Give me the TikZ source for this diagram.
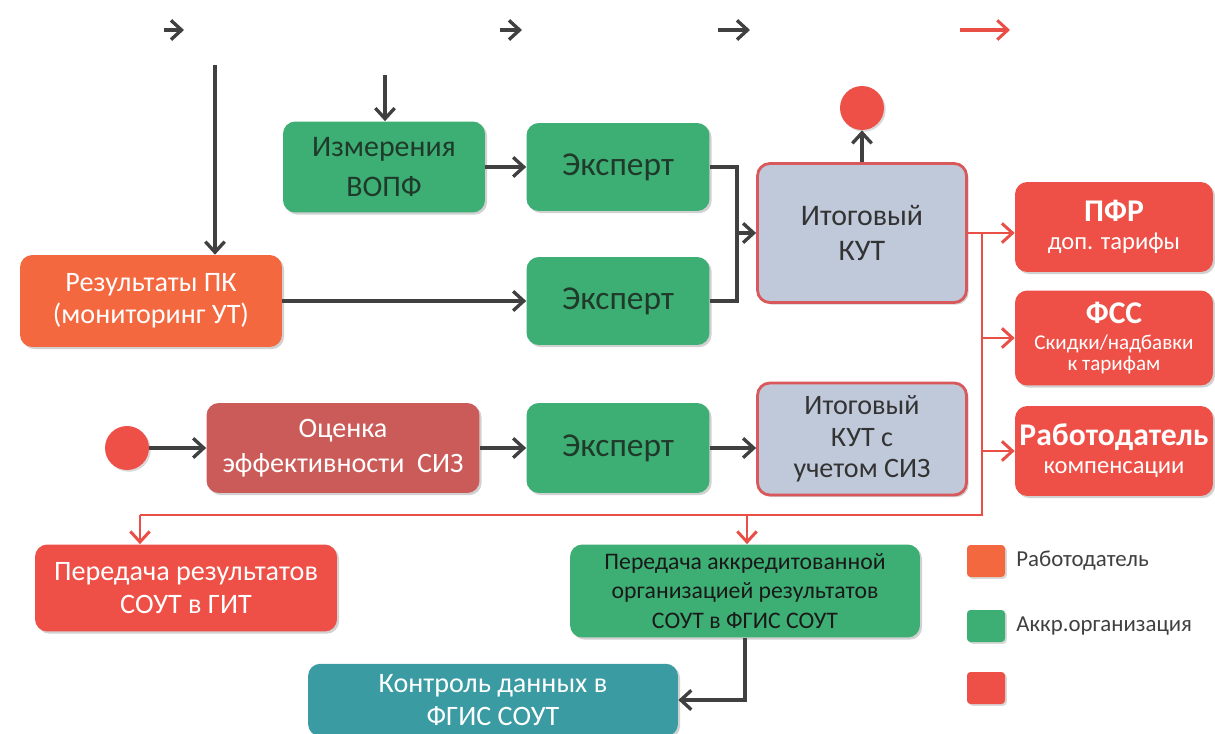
\documentclass[tikz,border=0pt]{standalone}
\usepackage{fontspec}
\setmainfont{Carlito}
\usetikzlibrary{arrows.meta,shadows,calc}
\definecolor{cgreen}{HTML}{3DAE74}
\definecolor{corange}{HTML}{F4683F}
\definecolor{cred}{HTML}{EE5047}
\definecolor{cdred}{HTML}{CB5B58}
\definecolor{cgrey}{HTML}{BFC9D9}
\definecolor{cgborder}{HTML}{D9585B}
\definecolor{cteal}{HTML}{3A9BA2}
\definecolor{cline}{HTML}{404040}
\definecolor{cdark}{HTML}{1F3A2A}
\definecolor{credline}{HTML}{EA4F47}
\newcommand{\fbig}{\fontsize{18}{21}\selectfont\bfseries}
\newcommand{\fsub}[1]{\fontsize{#1}{15}\selectfont\mdseries}
\tikzset{
  box/.style={rounded corners=7pt, align=center, inner sep=2pt,
    drop shadow={shadow xshift=1.2pt, shadow yshift=-1.2pt, fill=black, opacity=0.18}},
  gbox/.style={box, fill=cgreen, text=cdark},
  obox/.style={box, fill=corange, text=white},
  rbox/.style={box, fill=cred, text=white},
  kbox/.style={box, fill=cgrey, draw=cgborder, line width=1.6pt, text=black!80},
  dot/.style={circle, fill=cred, minimum size=0.88cm, inner sep=0pt,
    drop shadow={shadow xshift=1pt, shadow yshift=-1pt, fill=black, opacity=0.15}},
  arr/.style={draw=cline, line width=1.9pt, -{Straight Barb[length=6pt,width=11pt,line width=1.9pt]}},
  ln/.style={draw=cline, line width=1.9pt},
  rarr/.style={draw=credline, line width=1.7pt, -{Straight Barb[length=6pt,width=11pt,line width=1.7pt]}},
  rln/.style={draw=credline, line width=1.7pt},
  legsq/.style={rounded corners=2pt, minimum width=0.76cm, minimum height=0.64cm, inner sep=0pt,
    drop shadow={shadow xshift=1pt, shadow yshift=-1pt, fill=black, opacity=0.15}},
  legtxt/.style={anchor=west, inner sep=0pt, text=black!75, font=\fontsize{13}{15}\selectfont}
}
\begin{document}
\begin{tikzpicture}[x=0.02cm, y=-0.02cm]
\useasboundingbox[fill=white] (0,0) rectangle (1215,734);

% top arrows
\coordinate (t1s) at (164,30); \coordinate (t1e) at (184,30);
\coordinate (t2s) at (500,30); \coordinate (t2e) at (522,30);
\coordinate (t3s) at (718,30); \coordinate (t3e) at (750,30);
\coordinate (t4s) at (960,30); \coordinate (t4e) at (1010,30);
\draw[arr, line width=2.3pt] (t1s) -- (t1e);
\draw[arr, line width=2.3pt] (t2s) -- (t2e);
\draw[arr, line width=2.3pt] (t3s) -- (t3e);
\draw[rarr, line width=2.3pt] (t4s) -- (t4e);

% nodes
\node[gbox, minimum width=4.04cm, minimum height=1.82cm, font=\fontsize{17}{23}\selectfont] (izm) at (384,167) {Измерения\\ВОПФ};
\node[gbox, minimum width=3.66cm, minimum height=1.76cm, font=\fontsize{19}{22}\selectfont] (eks1) at (618,167) {Эксперт};
\node[gbox, minimum width=3.66cm, minimum height=1.76cm, font=\fontsize{19}{22}\selectfont] (eks2) at (618,301) {Эксперт};
\node[obox, minimum width=5.24cm, minimum height=1.84cm, font=\fontsize{16}{18}\selectfont] (rpk) at (151,301) {Результаты ПК\\(мониторинг УТ)};
\node[kbox, minimum width=4.18cm, minimum height=2.78cm, font=\fontsize{17}{20}\selectfont] (kut) at (862,233) {Итоговый\\КУТ};
\node[dot] (c1) at (862,108) {};
\node[rbox, minimum width=3.96cm, minimum height=1.80cm] (pfr) at (1114,227)
  {\fbig ПФР\\[4pt]\fsub{14}доп. тарифы};
\node[rbox, minimum width=3.96cm, minimum height=1.90cm] (fss) at (1114,338)
  {\fbig ФСС\\[3pt]\fsub{12}Скидки/надбавки\\\fsub{12}к тарифам};
\node[rbox, minimum width=3.96cm, minimum height=1.80cm] (rab) at (1114,451)
  {\fbig Работодатель\\[4pt]\fsub{14}компенсации};
\node[dot] (c2) at (127,448) {};
\node[box, fill=cdred, text=white, minimum width=5.46cm, minimum height=1.80cm, font=\fontsize{16}{20}\selectfont] (ots) at (343,448) {Оценка\\эффективности\ \ СИЗ};
\node[gbox, minimum width=3.66cm, minimum height=1.80cm, font=\fontsize{19}{22}\selectfont] (eks3) at (618,448) {Эксперт};
\node[kbox, minimum width=4.18cm, minimum height=2.24cm, font=\fontsize{16}{18}\selectfont] (kutsiz) at (862,439) {Итоговый\\КУТ с\\учетом СИЗ};
\node[rbox, minimum width=6.04cm, minimum height=1.74cm, font=\fontsize{16}{19}\selectfont] (git) at (186,588) {Передача результатов\\СОУТ в ГИТ};
\node[gbox, minimum width=7.0cm, minimum height=1.86cm, text=black!90, font=\fontsize{13.5}{17}\selectfont] (fgis) at (745,591) {Передача аккредитованной\\организацией результатов\\СОУТ в ФГИС СОУТ};
\node[box, fill=cteal, text=white, minimum width=7.4cm, minimum height=1.45cm, font=\fontsize{16}{19}\selectfont] (kon) at (493,700) {Контроль данных в\\ФГИС СОУТ};

% legend
\node[legsq, fill=corange] (l1) at (986,561) {};
\node[legsq, fill=cgreen] (l2) at (986,626) {};
\node[legsq, fill=cred] (l3) at (986,688) {};
\node[legtxt] (lt1) at (1016,561) {Работодатель};
\node[legtxt] (lt2) at (1016,626) {Аккр.организация};

% dark connectors
\coordinate (v1s) at (215,65);
\coordinate (v2s) at (385,75);
\draw[arr] (v1s) -- (v1s |- rpk.north);
\draw[arr] (v2s) -- (v2s |- izm.north);
\draw[arr] (izm) -- (eks1);
\draw[arr] (rpk) -- (eks2);
\coordinate (jn) at (737,233);
\draw[ln] (eks1.east) -| (jn) |- (eks2.east);
\draw[arr] (jn) -- (kut.west);
\draw[arr] (kut.north) -- (c1.south);
\draw[arr] (c2) -- (ots);
\draw[arr] (ots.east |- eks3) -- (eks3);
\draw[arr] (eks3.east) -- (eks3.east -| kutsiz.west);
\draw[arr] (fgis.south) |- (kon.east);

% red connectors
\coordinate (rt) at (982,233);
\coordinate (rb) at (982,515);
\coordinate (rl) at (140,515);
\coordinate (rm) at (747,515);
\draw[rarr] (kut.east) -- (kut.east -| pfr.west);
\draw[rln] (rt) -- (rb) -- (rl);
\draw[rarr] (rt |- fss) -- (fss.west);
\draw[rarr] (rt |- rab) -- (rab.west);
\draw[rarr] (rl) -- (rl |- git.north);
\draw[rarr] (rm) -- (rm |- fgis.north);
\end{tikzpicture}
\end{document}
